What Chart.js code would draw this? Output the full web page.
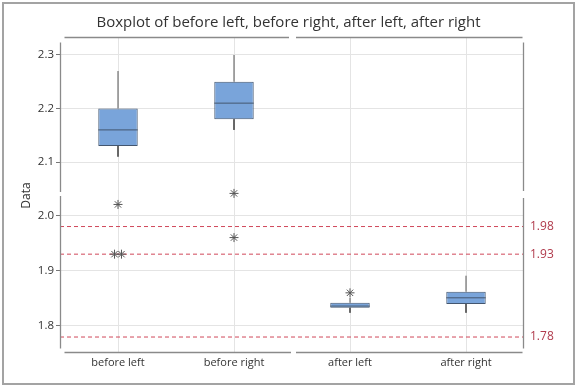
<!DOCTYPE html>
<html>
<head>
<meta charset="utf-8">
<script src="https://cdn.jsdelivr.net/npm/chart.js@4.4.1/dist/chart.umd.min.js"></script>
<style>
  html, body { margin: 0; padding: 0; background: #fff; }
  #wrap { width: 577px; height: 388px; }
</style>
</head>
<body>
<div id="wrap"><canvas id="boxplot" width="577" height="388"></canvas></div>
<script>
// data boxplot
const categories = ['before left', 'before right', 'after left', 'after right'];
const q1Values = [2.13, 2.18, 1.833, 1.840];
const medianValues = [2.16, 2.21, 1.836, 1.851];
const q3Values = [2.20, 2.25, 1.842, 1.862];
const whiskerLow = [2.11, 2.16, 1.824, 1.824];
const whiskerHigh = [2.27, 2.30, 1.851, 1.891];
const outlierValues = [[2.02, 1.93, 1.93], [2.04, 1.96], [1.86], []];
const refValues = [1.98, 1.93, 1.78];

// paksi y terpecah dua
const upperTicks = [2.1, 2.2, 2.3];
const lowerTicks = [1.8, 1.9, 2.0];
const upperRange = [2.0402, 2.3336];
const lowerRange = [1.7529, 2.0389];

const BOX_W = 0.34;
const FONT = "'Open Sans', 'Noto Sans', sans-serif";

Chart.defaults.font.family = FONT;
Chart.defaults.color = '#333';

const inTop = v => v >= upperRange[0];

// segmen garisan dipisahkan dengan titik null
function segments(list) {
  const out = [];
  list.forEach(([x1, y1, x2, y2]) => {
    out.push({ x: x1, y: y1 }, { x: x2, y: y2 }, { x: x2, y: null });
  });
  return out;
}

function boxData(top) {
  return categories
    .map((c, i) => ({ x: i, y: [q1Values[i], q3Values[i]] }))
    .filter(d => inTop(d.y[0]) === top);
}

function whiskerData(top) {
  const list = [];
  categories.forEach((c, i) => {
    if (inTop(q1Values[i]) !== top) return;
    list.push([i, q3Values[i], i, whiskerHigh[i]]);
    list.push([i, q1Values[i], i, whiskerLow[i]]);
  });
  return segments(list);
}

function medianData(top) {
  const list = [];
  categories.forEach((c, i) => {
    if (inTop(q1Values[i]) !== top) return;
    list.push([i - BOX_W / 2, medianValues[i], i + BOX_W / 2, medianValues[i]]);
  });
  return segments(list);
}

// nilai sama dianjak sedikit ke tepi
function outlierData() {
  const pts = [];
  outlierValues.forEach((vals, i) => {
    const seen = {};
    vals.forEach(v => { seen[v] = (seen[v] || 0) + 1; });
    Object.keys(seen).forEach(k => {
      const n = seen[k];
      for (let j = 0; j < n; j++) {
        pts.push({ x: i + (j - (n - 1) / 2) * 0.06, y: Number(k) });
      }
    });
  });
  return pts;
}

const boxStyle = {
  type: 'bar',
  backgroundColor: '#79a4da',
  borderColor: '#43566f',
  borderWidth: 1,
  borderSkipped: false,
  grouped: false,
  barPercentage: BOX_W,
  categoryPercentage: 1,
  order: 3,
};
const segStyle = {
  type: 'line',
  borderColor: '#555',
  borderWidth: 1,
  pointRadius: 0,
  spanGaps: false,
  order: 1,
};

const datasets = [
  { ...boxStyle, label: 'box atas', data: boxData(true), yAxisID: 'yTop' },
  { ...boxStyle, label: 'box bawah', data: boxData(false), yAxisID: 'yBot' },
  { ...segStyle, label: 'whisker atas', data: whiskerData(true), yAxisID: 'yTop', order: 4 },
  { ...segStyle, label: 'whisker bawah', data: whiskerData(false), yAxisID: 'yBot', order: 4 },
  { ...segStyle, label: 'median atas', data: medianData(true), yAxisID: 'yTop', borderColor: '#43566f' },
  { ...segStyle, label: 'median bawah', data: medianData(false), yAxisID: 'yBot', borderColor: '#43566f' },
  {
    type: 'scatter', label: 'outlier', data: outlierData(), yAxisID: 'yBot', clip: false,
    pointStyle: 'star', pointRadius: 4.5, borderColor: '#555', borderWidth: 1, order: 1,
  },
  ...refValues.map(v => ({
    ...segStyle, label: 'ref ' + v, yAxisID: 'yBot',
    data: [{ x: -0.5, y: v }, { x: categories.length - 0.5, y: v }],
    borderColor: '#d0485a', borderDash: [4, 3], order: 5,
  })),
];

function yScale(range, ticks, weight) {
  return {
    type: 'linear',
    position: 'left',
    stack: 'kiri',
    stackWeight: weight,
    min: range[0],
    max: range[1],
    border: { display: false },
    grid: { color: '#e4e4e4', tickColor: '#777', tickLength: 4 },
    ticks: { padding: 2, font: { size: 11.5 }, color: '#333', callback: v => Number(v).toFixed(1) },
    afterBuildTicks: s => { s.ticks = ticks.map(v => ({ value: v })); },
    afterFit: s => { s.width = 60; },
  };
}

function yRefScale(range, ticks, weight) {
  return {
    type: 'linear',
    position: 'right',
    stack: 'kanan',
    stackWeight: weight,
    min: range[0],
    max: range[1],
    border: { display: false },
    grid: { display: false, drawTicks: false },
    ticks: { display: ticks.length > 0, padding: 6, font: { size: 12 }, color: '#b03a4c', callback: v => Number(v).toFixed(2) },
    afterBuildTicks: s => { s.ticks = ticks.map(v => ({ value: v })); },
    afterFit: s => { s.width = 53; },
  };
}

// bingkai paksi dengan celah pada pecahan
const framePlugin = {
  id: 'frame',
  beforeDraw(chart) {
    const { ctx, width, height } = chart;
    ctx.save();
    ctx.fillStyle = '#fff';
    ctx.fillRect(0, 0, width, height);
    ctx.strokeStyle = '#a3a3a3';
    ctx.lineWidth = 2;
    ctx.strokeRect(3, 3, width - 6, height - 7);
    ctx.restore();
  },
  afterDraw(chart) {
    const { ctx, chartArea: a, scales } = chart;
    const breakY = Math.round(scales.yTop.bottom);
    const midX = Math.round(scales.x.getPixelForValue((categories.length - 1) / 2));
    const L = Math.round(a.left) + 0.5, R = Math.round(a.right) - 0.5;
    const T = Math.round(a.top) + 0.5, B = Math.round(a.bottom) + 0.5;
    const line = (x1, y1, x2, y2) => { ctx.beginPath(); ctx.moveTo(x1, y1); ctx.lineTo(x2, y2); ctx.stroke(); };
    ctx.save();
    ctx.strokeStyle = '#8a8a8a';
    ctx.lineWidth = 1.3;
    line(L, T + 5, L, breakY - 2);
    line(L, breakY + 2, L, B - 4);
    line(R, T + 5, R, breakY - 3);
    line(R, breakY + 4, R, B - 4);
    line(L + 4, T, midX - 3, T);
    line(midX + 4, T, R - 1, T);
    line(L + 4, B, midX - 1, B);
    line(midX + 4, B, R - 1, B);
    // label paksi y
    ctx.fillStyle = '#333';
    ctx.font = '12px ' + FONT;
    ctx.textAlign = 'center';
    ctx.textBaseline = 'middle';
    ctx.translate(27, (a.top + a.bottom) / 2 + 1);
    ctx.rotate(-Math.PI / 2);
    ctx.fillText('Data', 0, 0);
    ctx.restore();
  },
};

new Chart(document.getElementById('boxplot'), {
  type: 'bar',
  data: { datasets },
  plugins: [framePlugin],
  options: {
    responsive: false,
    animation: false,
    devicePixelRatio: 1,
    layout: { padding: 0 },
    plugins: {
      legend: { display: false },
      tooltip: { enabled: false },
      title: {
        display: true,
        text: 'Boxplot of before left, before right, after left, after right',
        font: { size: 15, weight: 'normal' },
        color: '#333',
        padding: { top: 14, bottom: 5 },
      },
    },
    scales: {
      x: {
        type: 'linear',
        min: -0.5,
        max: categories.length - 0.5,
        offset: false,
        border: { display: false },
        grid: { color: '#e4e4e4', offset: false, drawTicks: false },
        ticks: { padding: 4, font: { size: 11 }, color: '#333', callback: v => categories[v] },
        afterBuildTicks: s => { s.ticks = categories.map((c, i) => ({ value: i })); },
        afterFit: s => { s.height = 36; },
      },
      yBot: yScale(lowerRange, lowerTicks, 158),
      yTop: yScale(upperRange, upperTicks, 157),
      yTopR: yRefScale(upperRange, [], 157),
      yBotR: yRefScale(lowerRange, refValues, 158),
    },
  },
});
</script>
</body>
</html>
